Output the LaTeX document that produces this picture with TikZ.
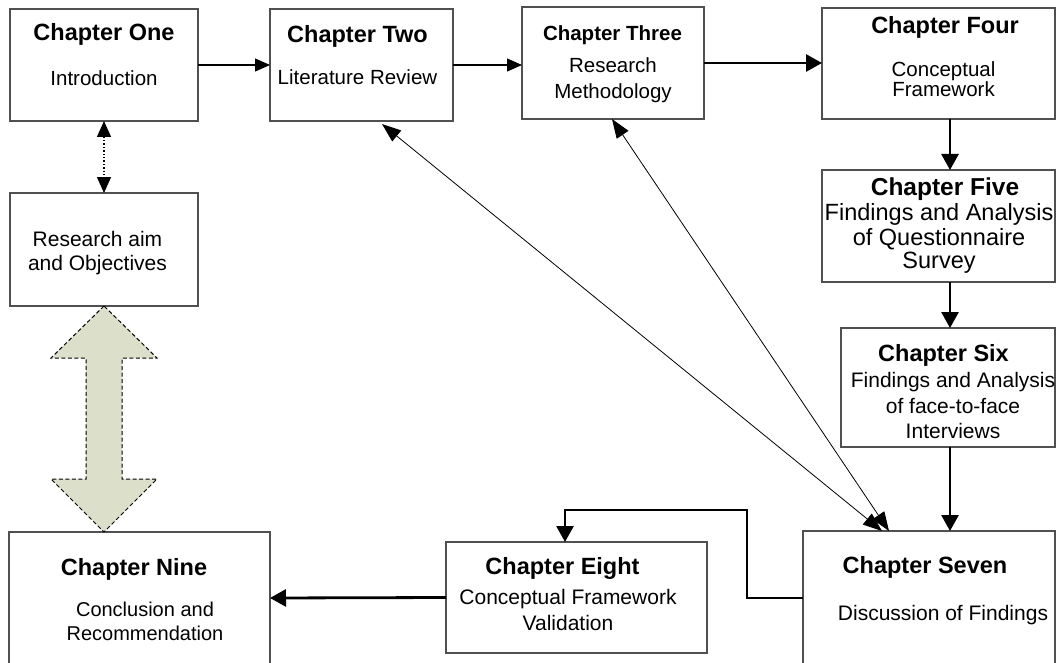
\documentclass[tikz,border=0pt]{standalone}
\usepackage{fontspec}
\setmainfont{Liberation Sans}
\usetikzlibrary{arrows.meta}
\definecolor{boxgray}{HTML}{505050}
\definecolor{sage}{HTML}{DCE0CA}
\begin{document}
\begin{tikzpicture}[x=1pt,y=-1pt,
  box/.style={draw=boxgray, line width=1.2pt, fill=white, inner sep=0pt, outer sep=0pt, anchor=north west},
  ttl/.style={font=\fontsize{23.5}{28}\selectfont\bfseries, anchor=base, inner sep=0pt},
  txt/.style={font=\fontsize{20.5}{24}\selectfont, anchor=base, inner sep=0pt},
  thinarrow/.style={line width=1.2pt, -{Triangle[length=15pt,width=13pt]}},
  thickarrow/.style={line width=2.8pt, -{Triangle[length=16pt,width=17pt]}},
  crossarrow/.style={line width=0.8pt, {Triangle[length=19pt,width=14pt]}-{Triangle[length=19pt,width=14pt]}},
  linkarrow/.style={line width=1.4pt, dotted, {Triangle[length=16pt,width=14pt]}-{Triangle[length=16pt,width=14pt]}},
  bigarrow/.style={draw=black, line width=1pt, dash pattern=on 4pt off 2.5pt, fill=sage}
]
\useasboundingbox (0,0) rectangle (1056,663);

% chapter boxes
\node[box, minimum width=188pt, minimum height=112pt] (one)   at (10,9)   {};
\node[box, minimum width=183pt, minimum height=112pt] (two)   at (270,9)  {};
\node[box, minimum width=182pt, minimum height=112pt] (three) at (522,7)  {};
\node[box, minimum width=233pt, minimum height=111pt] (four)  at (822,8)  {};
\node[box, minimum width=233pt, minimum height=112pt] (five)  at (822,170) {};
\node[box, minimum width=214pt, minimum height=119pt] (six)   at (841,328) {};
\node[box, minimum width=252pt, minimum height=134pt] (seven) at (803,531) {};
\node[box, minimum width=261pt, minimum height=111pt] (eight) at (446,542) {};
\node[box, minimum width=261pt, minimum height=132pt] (nine)  at (9,532)  {};
\node[box, minimum width=188pt, minimum height=113pt] (aim)   at (10,193) {};

% box texts
\node[ttl] (oneT) at (104,40.7) {Chapter One};
\node[txt] (oneA) at (104,85.3) {Introduction};

\node[ttl] (twoT) at (357.5,42.7) {Chapter Two};
\node[txt] (twoA) at (357.5,84.3) {Literature Review};

\node[ttl, font=\fontsize{20.5}{24}\selectfont\bfseries] (threeT) at (612.5,40.7) {Chapter Three};
\node[txt] (threeA) at (613,72.7) {Research};
\node[txt] (threeB) at (613,98.3) {Methodology};

\node[ttl] (fourT) at (945,33.3) {Chapter Four};
\node[txt] (fourA) at (943.5,76.7) {Conceptual};
\node[txt] (fourB) at (943.5,96.7) {Framework};

\node[ttl, font=\fontsize{24.5}{29}\selectfont\bfseries] (fiveT) at (945,195) {Chapter Five};
\node[txt, font=\fontsize{23.5}{28}\selectfont] (fiveA) at (939,220) {Findings and Analysis};
\node[txt, font=\fontsize{23.5}{28}\selectfont] (fiveB) at (939,245) {of Questionnaire};
\node[txt, font=\fontsize{23.5}{28}\selectfont] (fiveC) at (939,268.3) {Survey};

\node[ttl] (sixT) at (943.5,361.7) {Chapter Six};
\node[txt, font=\fontsize{21}{25}\selectfont] (sixA) at (953,387.3) {Findings and Analysis};
\node[txt, font=\fontsize{21}{25}\selectfont] (sixB) at (953,413.3) {of face-to-face};
\node[txt, font=\fontsize{21}{25}\selectfont] (sixC) at (953,438.3) {Interviews};

\node[ttl] (sevenT) at (925,573.3) {Chapter Seven};
\node[txt, font=\fontsize{21}{25}\selectfont] (sevenA) at (943,620.7) {Discussion of Findings};

\node[ttl] (eightT) at (562.5,574) {Chapter Eight};
\node[txt, font=\fontsize{21}{25}\selectfont] (eightA) at (568,604) {Conceptual Framework};
\node[txt, font=\fontsize{21}{25}\selectfont] (eightB) at (568,630) {Validation};

\node[ttl] (nineT) at (134,575) {Chapter Nine};
\node[txt, font=\fontsize{20}{24}\selectfont] (nineA) at (145,616.7) {Conclusion and};
\node[txt, font=\fontsize{20}{24}\selectfont] (nineB) at (145,640) {Recommendation};

\node[txt, font=\fontsize{21}{25}\selectfont] (aimA) at (97.5,246.5) {Research aim};
\node[txt, font=\fontsize{21}{25}\selectfont] (aimB) at (97.5,270.7) {and Objectives};

% helper points for the right-hand column and the bend above chapter eight
\coordinate (col) at (950,0);
\coordinate (bend) at (747,510);

% top row
\draw[thinarrow] (one.east) -- (two.west);
\draw[thinarrow] (two.east) -- (two.east -| three.west);
\draw[thickarrow] (three.east) -- (three.east -| four.west);

% right-hand column
\draw[thickarrow] (col |- four.south) -- (col |- five.north);
\draw[thickarrow] (col |- five.south) -- (col |- six.north);
\draw[thickarrow] (col |- six.south) -- (col |- seven.north);

% bottom row
\draw[thickarrow] (seven.west) -| (bend) -| ([xshift=-11.5pt]eight.north);
\draw[thickarrow] (eight.west) -- (nine.east);

% links back from chapter seven
\draw[crossarrow] ([xshift=20.5pt,yshift=-3pt]two.south) -- ([xshift=-47pt]seven.north);
\draw[crossarrow] ([xshift=-1pt]three.south) -- ([xshift=-40pt]seven.north);

% chapter one and the research aim
\draw[linkarrow] (one.south) -- (aim.north);

% broad two-way arrow between the aims and chapter nine
\draw[bigarrow] (aim.south) -- (51,358) -- (86,358) -- (86,479) -- (51,479)
  -- (nine.north -| aim.south) -- (157,479) -- (122,479) -- (122,358) -- (157,358) -- cycle;
\end{tikzpicture}
\end{document}
